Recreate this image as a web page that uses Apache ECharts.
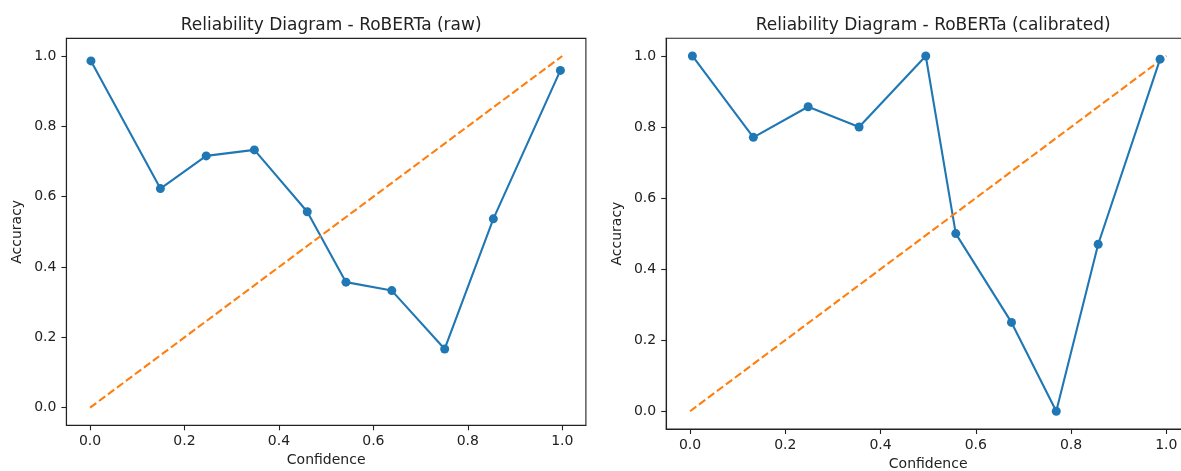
<!DOCTYPE html>
<html>
<head>
<meta charset="utf-8">
<script src="https://cdn.jsdelivr.net/npm/echarts@6/dist/echarts.min.js"></script>
<style>
html,body{margin:0;padding:0;background:#fff;}
#chart{width:1181px;height:471px;}
</style>
</head>
<body>
<div id="chart"></div>
<script>
// ---- data ----
const titles = ['Reliability Diagram - RoBERTa (raw)', 'Reliability Diagram - RoBERTa (calibrated)'];
const rawConf = [0.002, 0.149, 0.246, 0.348, 0.460, 0.542, 0.639, 0.751, 0.854, 0.996];
const rawAcc  = [0.986, 0.623, 0.716, 0.733, 0.557, 0.357, 0.333, 0.167, 0.537, 0.959];
const calConf = [0.005, 0.133, 0.248, 0.355, 0.495, 0.558, 0.675, 0.769, 0.857, 0.987];
const calAcc  = [1.000, 0.771, 0.857, 0.800, 1.000, 0.500, 0.250, 0.000, 0.470, 0.991];
const diagX = [0, 1];
const diagY = [0, 1];
const tickValues = [0, 0.2, 0.4, 0.6, 0.8, 1.0];
const xLabel = 'Confidence';
const yLabel = 'Accuracy';

const FONT = 'DejaVu Sans';
const INK = '#222';
const BLUE = '#1f77b4';
const ORANGE = '#ff7f0e';

const grids = [
  {left: 66.4, top: 38.4, width: 519.5, height: 386.9},
  {left: 666.2, top: 38.2, width: 523.9, height: 390.8}
];

function pairs(xs, ys){ return xs.map((x,i)=>[x, ys[i]]); }

function axisCommon(isX, gi){
  return {
    type: 'value',
    gridIndex: gi,
    min: -0.05, max: 1.05,
    name: isX ? xLabel : yLabel,
    nameLocation: 'middle',
    nameGap: isX ? 28 : 42,
    nameTextStyle: {fontFamily: FONT, fontSize: 14, color: INK},
    axisLine: {show: true, onZero: false, lineStyle: {color: INK, width: 1.1}},
    axisTick: {show: true, length: 5, customValues: tickValues, lineStyle: {color: INK, width: 1.1}},
    axisLabel: {show: true, customValues: tickValues, margin: isX ? 9 : 10,
      fontFamily: FONT, fontSize: 14, color: INK,
      formatter: v => v.toFixed(1)},
    splitLine: {show: false}
  };
}

const option = {
  animation: false,
  backgroundColor: '#fff',
  title: titles.map((t, i) => ({
    text: t,
    left: grids[i].left + grids[i].width / 2,
    top: 12,
    textAlign: 'center',
    textStyle: {fontFamily: FONT, fontSize: 17, fontWeight: 'normal', color: INK}
  })),
  grid: grids.map(g => Object.assign({show: true, borderColor: INK, borderWidth: 1.1, backgroundColor: 'transparent', containLabel: false, outerBoundsMode: 'none'}, g)),
  xAxis: [axisCommon(true, 0), axisCommon(true, 1)],
  yAxis: [axisCommon(false, 0), axisCommon(false, 1)],
  series: [
    {type: 'line', xAxisIndex: 0, yAxisIndex: 0, data: pairs(rawConf, rawAcc),
     symbol: 'circle', symbolSize: 9, showAllSymbol: true,
     lineStyle: {color: BLUE, width: 2.1}, itemStyle: {color: BLUE}},
    {type: 'line', xAxisIndex: 0, yAxisIndex: 0, data: pairs(diagX, diagY),
     symbol: 'none', lineStyle: {color: ORANGE, width: 2.1, type: [7.8, 3.4]}},
    {type: 'line', xAxisIndex: 1, yAxisIndex: 1, data: pairs(calConf, calAcc),
     symbol: 'circle', symbolSize: 9, showAllSymbol: true,
     lineStyle: {color: BLUE, width: 2.1}, itemStyle: {color: BLUE}},
    {type: 'line', xAxisIndex: 1, yAxisIndex: 1, data: pairs(diagX, diagY),
     symbol: 'none', lineStyle: {color: ORANGE, width: 2.1, type: [7.8, 3.4]}}
  ]
};

const chart = echarts.init(document.getElementById('chart'), null, {renderer: 'canvas'});
chart.setOption(option);
</script>
</body>
</html>
